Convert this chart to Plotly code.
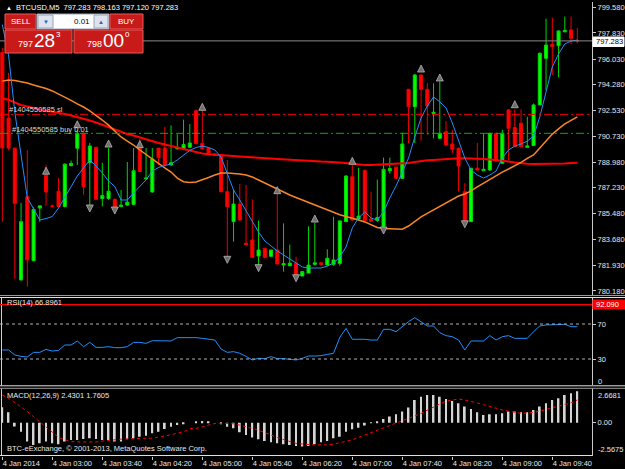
import plotly.graph_objects as go

# ---------------- data ----------------
bar_index = list(range(93))
time_tick_bars = [0, 8, 16, 24, 32, 40, 48, 56, 64, 72, 80, 88]
time_tick_labels = ["4 Jan 2014", "4 Jan 03:00", "4 Jan 03:40", "4 Jan 04:20", "4 Jan 05:00",
                    "4 Jan 05:40", "4 Jan 06:20", "4 Jan 07:00", "4 Jan 07:40", "4 Jan 08:20",
                    "4 Jan 09:00", "4 Jan 09:40"]

open_ = [796.5, 792.0, 789.94, 780.93, 786.63, 782.25, 785.85, 788.1, 786.0, 787.0,
         785.95, 788.75, 789.94, 790.96, 788.95, 790.0, 786.5, 786.5, 786.45, 785.95,
         786.05, 786.1, 790.0, 787.85, 786.95, 789.95, 789.95, 788.8, 789.9, 789.9,
         790.0, 792.5, 790.27, 789.95, 789.55, 789.48, 786.97, 784.92, 786.12, 783.45,
         783.66, 782.57, 783.1, 782.55, 782.98, 781.95, 781.9, 782.08, 781.2, 781.4,
         782.0, 782.1, 781.96, 782.0, 782.06, 784.92, 787.99, 785.1, 788.41, 785.1,
         785.0, 784.58, 788.4, 788.64, 787.88, 793.97, 792.78, 794.95, 793.97, 792.3,
         790.62, 791.07, 790.23, 789.94, 786.97, 784.92, 788.57, 788.4, 788.45, 790.96,
         788.91, 792.56, 791.35, 791.65, 790.0, 790.12, 792.9, 796.09, 797.05, 796.95,
         797.9, 798.03, 797.283]
high = [796.8, 795.1, 790.0, 786.2, 789.82, 785.9, 786.0, 788.8, 786.1, 787.9,
        788.9, 789.1, 791.2, 791.0, 790.3, 790.05, 788.95, 789.95, 786.5, 787.08,
        789.0, 789.95, 790.6, 789.95, 789.95, 789.95, 791.4, 791.5, 790.9, 791.9,
        791.6, 792.6, 792.6, 790.0, 789.6, 789.5, 789.14, 787.08, 787.5, 787.43,
        786.45, 785.0, 783.1, 782.98, 787.3, 784.8, 783.35, 782.52, 781.5, 784.6,
        784.85, 782.15, 783.03, 785.26, 785.0, 788.1, 788.8, 788.6, 788.5, 786.97,
        787.8, 789.3, 789.3, 788.7, 791.0, 794.0, 795.0, 795.0, 794.4, 794.38,
        794.5, 791.8, 791.2, 790.0, 787.55, 788.6, 790.3, 790.96, 791.0, 791.0,
        791.2, 792.6, 792.6, 792.6, 792.1, 793.0, 796.5, 798.8, 798.87, 798.0,
        798.95, 798.95, 798.163]
low = [784.9, 789.8, 781.0, 780.9, 780.47, 782.2, 784.9, 786.0, 785.9, 785.9,
       785.9, 788.7, 788.8, 786.75, 786.0, 786.4, 785.96, 786.4, 785.85, 785.9,
       786.0, 786.1, 788.3, 787.8, 786.9, 788.8, 788.75, 788.75, 789.85, 789.85,
       789.95, 790.2, 789.85, 789.5, 789.4, 786.9, 782.52, 783.55, 785.0, 783.3,
       782.45, 781.84, 782.4, 782.5, 782.0, 781.5, 781.9, 781.2, 781.2, 781.4,
       781.9, 781.9, 781.9, 781.9, 781.9, 784.9, 785.0, 785.0, 785.0, 784.9,
       784.9, 784.5, 788.2, 787.85, 787.85, 790.3, 790.3, 790.45, 790.85, 790.62,
       790.6, 790.1, 789.6, 786.97, 784.9, 784.9, 788.45, 788.4, 788.4, 789.0,
       788.9, 789.14, 790.0, 790.0, 790.0, 790.1, 792.9, 793.9, 794.95, 794.8,
       797.9, 797.05, 797.12]
close = [789.95, 789.95, 786.17, 784.92, 782.3, 785.76, 786.0, 786.95, 785.95, 785.95,
         788.85, 788.9, 790.96, 787.3, 790.09, 786.45, 786.7, 787.0, 785.9, 786.05,
         786.25, 788.4, 788.35, 787.9, 789.2, 789.3, 788.8, 788.95, 790.0, 790.2,
         790.3, 790.27, 789.9, 789.55, 789.45, 786.97, 785.94, 786.12, 785.03, 783.35,
         782.48, 782.98, 782.48, 782.98, 782.02, 782.05, 782.08, 781.2, 781.5, 781.95,
         782.1, 782.0, 782.41, 782.3, 784.97, 788.04, 785.03, 785.3, 785.0, 784.95,
         785.2, 788.5, 788.55, 787.88, 790.23, 792.78, 794.95, 793.97, 792.83, 792.4,
         790.96, 790.16, 789.87, 788.72, 784.92, 788.57, 788.45, 788.5, 790.96, 789.14,
         790.96, 791.31, 790.05, 790.05, 790.1, 792.9, 796.43, 797.0, 796.9, 797.96,
         798.0, 797.46, 797.283]

ma_fast = [798.4, 796.32, 792.42, 789.4, 786.54, 785.8, 785.03, 785.13, 785.27, 785.85,
           786.6, 787.32, 788.04, 788.59, 789.14, 788.72, 788.25, 787.7, 787.32, 786.4,
           786.4, 786.88, 787.36, 787.77, 788.38, 788.62, 788.76, 788.86, 789.14, 789.48,
           789.79, 789.99, 790.09, 789.99, 789.82, 789.34, 788.25, 787.08, 786.4, 785.65,
           784.9, 784.21, 783.6, 783.25, 782.91, 782.64, 782.36, 782.05, 781.82, 781.75,
           781.75, 781.75, 781.88, 782.09, 782.5, 783.19, 784.49, 785.17, 785.58, 785.17,
           785.03, 785.58, 786.54, 787.36, 788.31, 789.27, 790.71, 792.01, 792.83, 793.45,
           793.11, 792.69, 791.67, 790.5, 789.27, 788.45, 788.11, 787.9, 788.11, 788.38,
           789.27, 789.82, 790.09, 790.23, 790.43, 790.78, 792.08, 793.79, 795.5, 796.39,
           797.07, 797.27, 797.34]
ma_mid = [794.53, 794.61, 794.57, 794.49, 794.4, 794.26, 794.15, 794.03, 793.86, 793.65,
          793.45, 793.21, 792.97, 792.76, 792.49, 792.2, 791.87, 791.52, 791.11, 790.71,
          790.43, 790.16, 789.82, 789.5, 789.2, 788.9, 788.59, 788.31, 787.9, 787.65,
          787.6, 787.63, 787.77, 787.94, 788.11, 788.25, 788.25, 788.23, 788.18, 788.11,
          787.97, 787.77, 787.56, 787.39, 787.19, 786.95, 786.74, 786.57, 786.4, 786.26,
          786.09, 785.92, 785.75, 785.58, 785.39, 785.27, 785.17, 785.03, 784.9, 784.72,
          784.52, 784.45, 784.42, 784.4, 784.4, 784.62, 784.93, 785.24, 785.48, 785.72,
          785.99, 786.23, 786.47, 786.67, 786.81, 787.02, 787.29, 787.54, 787.8, 788.08,
          788.31, 788.52, 788.73, 788.97, 789.24, 789.48, 789.96, 790.47, 790.91, 791.26,
          791.6, 791.84, 792.08]
ma_slow = [793.34, 793.26, 793.07, 792.9, 792.8, 792.69, 792.56, 792.49, 792.43, 792.38,
           792.28, 792.18, 792.08, 791.97, 791.84, 791.7, 791.56, 791.39, 791.22, 791.05,
           790.91, 790.81, 790.67, 790.54, 790.43, 790.3, 790.19, 790.09, 789.99, 789.87,
           789.75, 789.65, 789.58, 789.53, 789.49, 789.46, 789.43, 789.41, 789.38, 789.34,
           789.31, 789.29, 789.26, 789.23, 789.2, 789.17, 789.14, 789.1, 789.08, 789.07,
           789.05, 789.03, 789.02, 789.0, 788.97, 788.93, 788.88, 788.83, 788.79, 788.79,
           788.81, 788.83, 788.84, 788.86, 788.88, 788.93, 789.0, 789.07, 789.11, 789.14,
           789.18, 789.22, 789.25, 789.25, 789.25, 789.25, 789.24, 789.2, 789.17, 789.14,
           789.1, 789.03, 788.97, 788.91, 788.88, 788.86, 788.86, 788.86, 788.86, 788.86,
           788.9, 788.93, 788.95]

fractal_up_bars = [7, 12, 17, 22, 32, 44, 50, 56, 67, 70, 82]
fractal_up_price = [788.64, 791.82, 790.5, 790.46, 793.01, 787.31, 785.37, 789.32, 795.63, 795.02, 793.19]
fractal_dn_bars = [14, 18, 36, 41, 47, 61, 74]
fractal_dn_price = [785.58, 785.44, 782.07, 781.5, 780.81, 784.07, 784.5]

sl_level = 792.26
buy_level = 790.96
bid_price = 797.283

price_tick_vals = [799.58, 797.83, 796.03, 794.28, 792.53, 790.73, 788.98, 787.23, 785.48, 783.68, 781.93, 780.18]
price_tick_text = ["799.580", "797.830", "796.030", "794.280", "792.530", "790.730", "788.980",
                   "787.230", "785.480", "783.680", "781.930", "780.180"]

rsi = [40.3, 40.3, 34.6, 33.0, 32.3, 37.6, 37.6, 41.0, 39.1, 39.9,
       46.0, 46.0, 50.6, 44.1, 49.0, 43.3, 43.3, 44.1, 42.95, 42.95,
       44.1, 49.0, 49.0, 47.9, 50.95, 50.6, 50.6, 50.6, 54.4, 54.4,
       54.8, 54.4, 53.6, 52.5, 51.7, 41.4, 37.6, 38.4, 36.5, 33.0,
       28.9, 30.8, 30.4, 32.7, 30.4, 30.4, 29.6, 28.9, 30.8, 33.4,
       33.4, 33.8, 35.3, 36.5, 54.8, 65.0, 52.5, 52.9, 52.5, 51.7,
       51.7, 63.9, 63.9, 61.2, 66.95, 72.7, 77.2, 72.7, 67.7, 67.7,
       60.1, 56.7, 55.5, 51.7, 40.3, 50.6, 50.6, 50.6, 56.7, 51.7,
       55.5, 56.7, 53.6, 53.6, 53.6, 61.2, 67.7, 68.9, 68.9, 69.6,
       69.6, 66.95, 66.8961]
rsi_levels = [70, 30]
rsi_marker_level = 92.09

macd_hist = [1.2, 0.81, -0.3, -0.7, -1.47, -1.73, -1.6, -1.47, -1.6, -1.68,
             -1.47, -1.34, -1.34, -1.27, -1.21, -1.27, -1.34, -1.34, -1.47, -1.47,
             -1.29, -1.21, -1.09, -1.01, -0.83, -0.7, -0.49, -0.31, -0.18, -0.1,
             0.0, 0.08, 0.13, 0.08, 0.0, -0.13, -0.31, -0.44, -0.75, -0.96,
             -1.16, -1.29, -1.42, -1.53, -1.6, -1.68, -1.73, -1.81, -1.86, -1.81,
             -1.68, -1.53, -1.42, -1.21, -1.09, -0.7, -0.52, -0.39, -0.23, -0.05,
             0.08, 0.29, 0.47, 0.65, 0.86, 1.17, 1.76, 2.02, 2.15, 2.15,
             2.02, 1.84, 1.69, 1.51, 1.25, 1.06, 0.81, 0.6, 0.65, 0.65,
             0.73, 0.86, 0.86, 0.81, 0.81, 0.99, 1.25, 1.51, 1.76, 1.89,
             2.15, 2.28, 2.4301]
macd_signal = [2.15, 1.89, 1.56, 1.22, 0.86, 0.47, 0.08, -0.31, -0.72, -1.14,
               -1.32, -1.47, -1.49, -1.51, -1.51, -1.5, -1.43, -1.37, -1.33, -1.28,
               -1.25, -1.23, -1.22, -1.22, -1.2, -1.12, -1.04, -0.94, -0.82, -0.7,
               -0.47, -0.45, -0.32, -0.19, -0.06, -0.05, -0.05, -0.09, -0.19, -0.29,
               -0.44, -0.59, -0.75, -0.96, -1.16, -1.33, -1.48, -1.61, -1.66, -1.72,
               -1.73, -1.73, -1.73, -1.66, -1.58, -1.45, -1.33, -1.13, -0.96, -0.79,
               -0.59, -0.41, -0.23, -0.05, 0.13, 0.3, 0.48, 0.71, 0.97, 1.23,
               1.45, 1.67, 1.76, 1.84, 1.76, 1.67, 1.53, 1.39, 1.25, 1.12,
               0.99, 0.89, 0.78, 0.72, 0.76, 0.8, 0.9, 1.03, 1.16, 1.28,
               1.4, 1.54, 1.7605]
macd_scale = [2.6681, -2.5675]

# ---------------- geometry helpers ----------------
W, H = 625, 469
MR, MB = 33, 13
PW, PH = W - MR, H - MB
FONT = "Liberation Sans"


def px(x):
    return x / PW


def py(y):
    return (PH - y) / PH


def bar_of(x):
    return (x - 2.3) / 6.25


def price_of(y):
    return 799.58 - (y - 7.3) / 14.62


fig = go.Figure()

fig.add_trace(go.Candlestick(
    x=bar_index, open=open_, high=high, low=low, close=close,
    increasing=dict(line=dict(color="#00D800", width=1), fillcolor="#00FF00"),
    decreasing=dict(line=dict(color="#EE0000", width=1), fillcolor="#FF0000"),
    xaxis="x", yaxis="y", hoverinfo="skip"))

fig.add_trace(go.Scatter(x=bar_index, y=ma_slow, mode="lines",
                         line=dict(color="#FF0000", width=2), xaxis="x", yaxis="y"))
fig.add_trace(go.Scatter(x=bar_index, y=ma_mid, mode="lines",
                         line=dict(color="#F7862A", width=1.5), xaxis="x", yaxis="y"))
fig.add_trace(go.Scatter(x=bar_index, y=ma_fast, mode="lines",
                         line=dict(color="#1E90FF", width=1), xaxis="x", yaxis="y"))

fig.add_trace(go.Scatter(x=fractal_up_bars, y=fractal_up_price, mode="markers",
                         marker=dict(symbol="arrow-up", size=7, color="#6E6E6E",
                                     line=dict(color="#B4B4B4", width=0.8)),
                         xaxis="x", yaxis="y"))
fig.add_trace(go.Scatter(x=fractal_dn_bars, y=fractal_dn_price, mode="markers",
                         marker=dict(symbol="arrow-down", size=7, color="#6E6E6E",
                                     line=dict(color="#B4B4B4", width=0.8)),
                         xaxis="x", yaxis="y"))

# RSI
fig.add_trace(go.Scatter(x=bar_index, y=rsi, mode="lines",
                         line=dict(color="#1E90FF", width=1), xaxis="x", yaxis="y2"))

# MACD
fig.add_trace(go.Bar(x=bar_index, y=macd_hist, width=0.28, marker=dict(color="#D4D4D4", line=dict(width=0)),
                     xaxis="x", yaxis="y3"))
fig.add_trace(go.Scatter(x=bar_index, y=macd_signal, mode="lines",
                         line=dict(color="#FF0000", width=1, dash="dot"), xaxis="x", yaxis="y3"))

axis_font = dict(family=FONT, size=7.5, color="#E8E8E8")
x_range = [bar_of(0), bar_of(PW)]
main_top, main_bot = 2, 295
rsi_top, rsi_bot = 297.75, 385.25
macd_top, macd_bot = 388.3, 455.7

common_y = dict(side="right", anchor="x", showgrid=False, zeroline=False, ticks="outside",
                ticklen=3, tickcolor="#C8C8C8", showline=True, linecolor="#C8C8C8",
                linewidth=1, tickfont=axis_font, fixedrange=True)

fig.update_layout(
    width=W, height=H,
    margin=dict(l=0, r=MR, t=0, b=MB),
    paper_bgcolor="#000000", plot_bgcolor="#000000",
    showlegend=False,
    hovermode=False,
    boxgap=0.3,
    xaxis=dict(domain=[0, 1], range=x_range, anchor="y3", showgrid=False, zeroline=False,
               tickvals=time_tick_bars, ticktext=time_tick_labels, ticks="outside", ticklen=3,
               tickcolor="#C8C8C8", ticklabelposition="outside right", tickfont=axis_font,
               showline=False, rangeslider=dict(visible=False), fixedrange=True),
    yaxis=dict(domain=[py(main_bot), py(main_top)], range=[price_of(main_bot), price_of(main_top)],
               tickvals=price_tick_vals, ticktext=price_tick_text, **common_y),
    yaxis2=dict(domain=[py(rsi_bot), py(rsi_top)], range=[0, 100],
                tickvals=rsi_levels, ticktext=[str(v) for v in rsi_levels], **common_y),
    yaxis3=dict(domain=[py(macd_bot), py(macd_top)], range=[macd_scale[1], macd_scale[0]],
                tickvals=[0], ticktext=["0.00"], **common_y),
)

shapes = []
# horizontal order lines
shapes.append(dict(type="line", xref="paper", yref="y", x0=0, x1=1, y0=sl_level, y1=sl_level,
                   line=dict(color="#FF0000", width=1, dash="8px,3px,2px,3px")))
shapes.append(dict(type="line", xref="paper", yref="y", x0=0, x1=1, y0=buy_level, y1=buy_level,
                   line=dict(color="#00B400", width=1, dash="8px,3px,2px,3px")))
shapes.append(dict(type="line", xref="paper", yref="y", x0=0, x1=1, y0=bid_price, y1=bid_price,
                   line=dict(color="#8A8A8A", width=1)))
# RSI levels
for lv in rsi_levels:
    shapes.append(dict(type="line", xref="paper", yref="y2", x0=0, x1=1, y0=lv, y1=lv,
                       line=dict(color="#B0B0B0", width=1, dash="dot")))
shapes.append(dict(type="line", xref="paper", yref="y2", x0=0, x1=1, y0=rsi_marker_level,
                   y1=rsi_marker_level, line=dict(color="#FF0000", width=1.2)))


def hline(y, x0, x1, color="#C8C8C8", width=1):
    shapes.append(dict(type="line", xref="paper", yref="paper", x0=px(x0), x1=px(x1),
                       y0=py(y), y1=py(y), line=dict(color=color, width=width), layer="above"))


def vline(x, y0, y1, color="#C8C8C8", width=1):
    shapes.append(dict(type="line", xref="paper", yref="paper", x0=px(x), x1=px(x),
                       y0=py(y0), y1=py(y1), line=dict(color=color, width=width), layer="below"))


# panel frames
hline(295.5, 0, W, "#9A9A9A")
hline(297.5, 0, W, "#E0E0E0")
hline(385.8, 0, W, "#E0E0E0")
hline(388.3, 0, W, "#9A9A9A")
hline(455.5, 0, PW, "#E0E0E0")
vline(1.5, 297.5, 385.8, "#D0D0D0")
vline(1.5, 388.3, 455.5, "#D0D0D0")


def rect(x0, y0, x1, y1, fill, line="#000000", lw=1):
    shapes.append(dict(type="rect", xref="paper", yref="paper", x0=px(x0), x1=px(x1),
                       y0=py(y1), y1=py(y0), fillcolor=fill, line=dict(color=line, width=lw),
                       layer="above"))


# one-click trading panel
rect(5, 14, 36, 29, "#C91A1A", "#E45A5A")
rect(37, 14, 109, 29, "#FFFFFF", "#9AA4B8")
rect(38, 15, 53, 28, "#DCE2EE", "#9AA4B8")
rect(94, 15, 108, 28, "#DCE2EE", "#9AA4B8")
rect(110, 14, 143, 29, "#C91A1A", "#E45A5A")
rect(5, 30, 72, 53, "#C91A1A", "#E45A5A")
rect(74, 30, 143, 53, "#C91A1A", "#E45A5A")
# value labels on right axis
rect(593, 37, 624, 46.5, "#FFFFFF", "#FFFFFF")
rect(593, 300, 625, 309, "#FF0000", "#FF0000")

fig.update_layout(shapes=shapes)

annotations = []


def ann(text, x, y, size=7.5, color="#FFFFFF", xanchor="left", family=FONT):
    annotations.append(dict(text=text, x=px(x), y=py(y), xref="paper", yref="paper",
                            xanchor=xanchor, yanchor="middle", showarrow=False,
                            font=dict(family=family, size=size, color=color)))


ann("▲", 4, 7.5, 6)
ann("BTCUSD,M5  797.283 798.163 797.120 797.283", 14, 7.5, 7.5)
ann("SELL", 20.5, 21.5, 8, xanchor="center")
ann("BUY", 126.5, 21.5, 8, xanchor="center")
ann("0.01", 92, 21.5, 8, "#000000", xanchor="right")
ann("▼", 45.5, 21.5, 6, "#3A5DA8", xanchor="center")
ann("▲", 101, 21.5, 6, "#3A5DA8", xanchor="center")
ann("797", 16, 44, 9)
ann("28", 32, 40, 19)
ann("3", 54, 35, 8)
ann("798", 85, 44, 9)
ann("00", 101, 40, 19)
ann("0", 123, 35, 8)
ann("#1404550585 sl", 7, 110, 7.5, "#D8D8D8")
ann("#1404550585 buy 0.01", 10, 129, 7.5, "#D8D8D8")
ann("797.283", 594, 41.7, 7.5, "#000000")
ann("RSI(14) 66.8961", 5, 302, 7.5, "#E8E8E8")
ann("92.090", 594, 304.5, 7.5, "#FFFFFF")
ann("0", 596, 381, 7.5, "#E8E8E8")
ann("MACD(12,26,9) 2.4301 1.7605", 5, 395, 7.5, "#E8E8E8")
ann("2.6681", 596, 395, 7.5, "#E8E8E8")
ann("-2.5675", 596, 449, 7.5, "#E8E8E8")
ann("BTC-eExchange, © 2001-2013, MetaQuotes Software Corp.", 5, 448, 7.5, "#E8E8E8")

fig.update_layout(annotations=annotations)

fig.write_html("out.html")
